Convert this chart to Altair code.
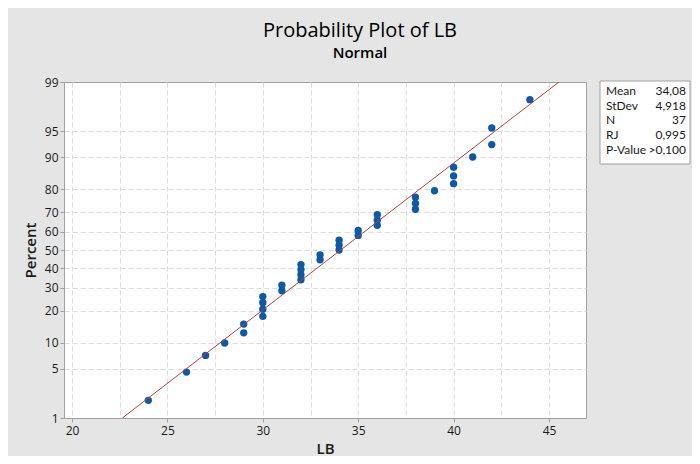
import altair as alt
import pandas as pd
from statistics import NormalDist

# ---- data ----
LB = [24, 26, 27, 28, 29, 29, 30, 30, 30, 30, 31, 31, 32, 32, 32, 32, 33, 33,
      34, 34, 34, 35, 35, 36, 36, 36, 38, 38, 38, 39, 40, 40, 40, 41, 42, 42, 44]
PERCENT = [1.87, 4.55, 7.22, 9.89, 12.57, 15.24, 17.91, 20.59, 23.26, 25.94,
           28.61, 31.28, 33.96, 36.63, 39.30, 41.98, 44.65, 47.33, 50.00, 52.67,
           55.35, 58.02, 60.70, 63.37, 66.04, 68.72, 71.39, 74.06, 76.74, 79.41,
           82.09, 84.76, 87.43, 90.11, 92.78, 95.45, 98.13]
MEAN = 34.08
SD = 4.918
Y_TICKS = [1, 5, 10, 20, 30, 40, 50, 60, 70, 80, 90, 95, 99]
X_GRID = [20, 22.5, 25, 27.5, 30, 32.5, 35, 37.5, 40, 42.5, 45]
STAT_LABELS = ["Mean", "StDev", "N", "RJ", "P-Value"]
STAT_VALUES = ["34,08", "4,918", "37", "0,995", ">0,100"]

nd = NormalDist()
z = lambda p: nd.inv_cdf(p / 100.0)

pts = pd.DataFrame({"LB": LB, "z": [z(p) for p in PERCENT]})
line = pd.DataFrame({"LB": [MEAN + SD * z(1), MEAN + SD * z(99)],
                     "z": [z(1), z(99)]})
one = pd.DataFrame({"k": [0]})

FONT = "Open Sans"
BOXFONT = "Lato"
TXT = "#1a1a1a"
ydom = [z(1), z(99)]
xscale = alt.Scale(domain=[19.58, 46.94], nice=False, zero=False)
yscale = alt.Scale(domain=ydom, nice=False, zero=False)

xaxis = alt.Axis(
    title="LB", values=X_GRID, tickCount=50,
    labelExpr="datum.value % 5 === 0 ? format(datum.value, 'd') : ''",
    tickOpacity={"condition": {"test": "datum.value % 5 === 0", "value": 1}, "value": 0},
    grid=True, gridDash=[5, 3], gridColor="#dcdcdc",
    tickSize=4, tickColor="#a0a0a0", domainColor="#a0a0a0",
    labelFontSize=12, labelColor=TXT, labelFont=FONT, labelPadding=3,
    titleFontSize=15, titleFontWeight=600, titleColor=TXT, titleFont=FONT, titlePadding=5,
)
yaxis = alt.Axis(
    title="Percent", values=[z(p) for p in Y_TICKS], tickCount=50,
    labelExpr="format(cumulativeNormal(datum.value) * 100, '.0f')",
    labelOverlap=False,
    grid=True, gridDash=[5, 3], gridColor="#dcdcdc",
    gridOpacity={"condition": {"test": "abs(datum.value) > 2.3", "value": 0}, "value": 1},
    tickSize=4, tickColor="#a0a0a0", domainColor="#a0a0a0",
    labelFontSize=12, labelColor=TXT, labelFont=FONT, labelPadding=2,
    titleFontSize=15, titleFontWeight=600, titleColor=TXT, titleFont=FONT, titlePadding=6,
)

points = alt.Chart(pts).mark_circle(size=54, color="#0b5aa8", opacity=1).encode(
    x=alt.X("LB:Q", scale=xscale, axis=xaxis),
    y=alt.Y("z:Q", scale=yscale, axis=yaxis),
)
fit = alt.Chart(line).mark_line(color="#b5403f", strokeWidth=1, clip=True).encode(
    x=alt.X("LB:Q", scale=xscale), y=alt.Y("z:Q", scale=yscale)
)
box = alt.Chart(one).mark_rect(fill="white", stroke="#a0a0a0", strokeWidth=1).encode(
    x=alt.value(536), x2=alt.value(626), y=alt.value(-1), y2=alt.value(82)
)
labels = alt.Chart(one).mark_text(
    align="left", baseline="alphabetic", font=BOXFONT, fontSize=12, color=TXT, lineHeight=14.7
).encode(x=alt.value(542), y=alt.value(13), text=alt.value(STAT_LABELS))
values = alt.Chart(one).mark_text(
    align="right", baseline="alphabetic", font=BOXFONT, fontSize=12, color=TXT, lineHeight=14.7
).encode(x=alt.value(622), y=alt.value(13), text=alt.value(STAT_VALUES))

chart = alt.layer(points, fit, box, labels, values).properties(
    width=522, height=336,
    title=alt.TitleParams(
        text="Probability Plot of LB", subtitle="Normal",
        font=FONT, fontSize=20, fontWeight=500, color="#000000",
        subtitleFont=FONT, subtitleFontSize=15, subtitleFontWeight=600,
        subtitleColor="#000000", subtitlePadding=5, anchor="middle", dx=35, offset=15,
    ),
    autosize=alt.AutoSizeParams(type="none"),
    padding={"left": 56, "top": 74, "right": 106, "bottom": 38},
    background="#e5e5e5",
).configure_view(stroke="#a0a0a0", fill="white")

chart.save("out.html", embed_options={"renderer": "svg", "actions": False})
